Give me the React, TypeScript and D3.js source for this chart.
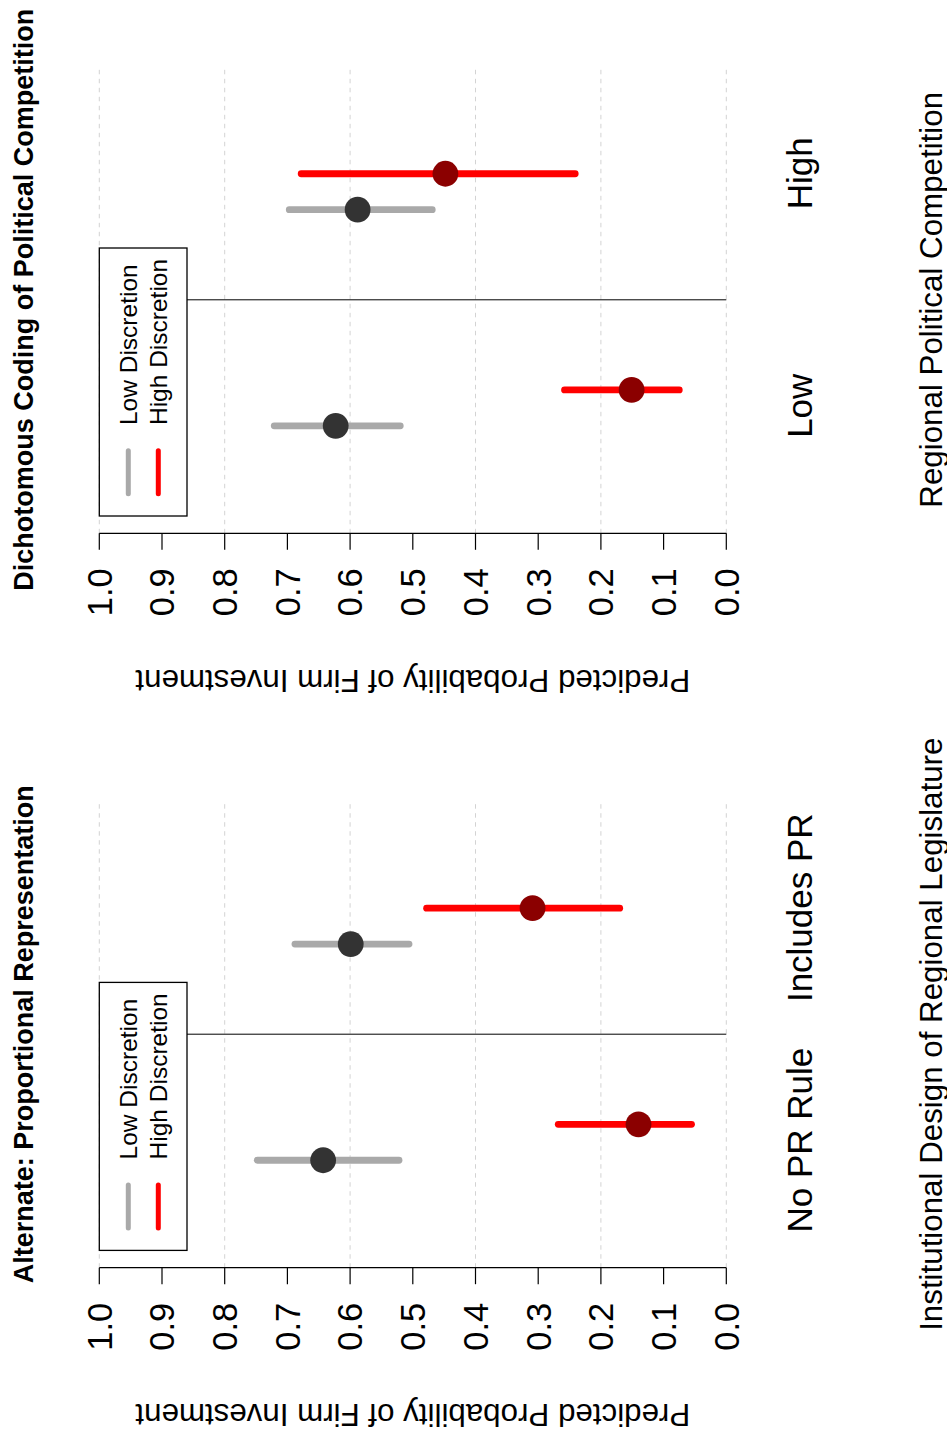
import React from "react";
import * as d3 from "d3";

// ---------- data ----------
const topTitle = "Dichotomous Coding of Political Competition";
const topXLabel = "Regional Political Competition";
const topCategories = ["Low", "High"];
const topLowEst = [0.623, 0.588];
const topLowLo = [0.52, 0.469];
const topLowHi = [0.721, 0.697];
const topHighEst = [0.151, 0.448];
const topHighLo = [0.075, 0.241];
const topHighHi = [0.258, 0.678];

const botTitle = "Alternate: Proportional Representation";
const botXLabel = "Institutional Design of Regional Legislature";
const botCategories = ["No PR Rule", "Includes PR"];
const botLowEst = [0.643, 0.599];
const botLowLo = [0.522, 0.506];
const botLowHi = [0.748, 0.688];
const botHighEst = [0.14, 0.309];
const botHighLo = [0.0555, 0.17];
const botHighHi = [0.268, 0.478];

const yTicks = [0, 0.1, 0.2, 0.3, 0.4, 0.5, 0.6, 0.7, 0.8, 0.9, 1.0];
const gridTicks = [0, 0.2, 0.4, 0.6, 0.8, 1.0];
const legendLabels = ["Low Discretion", "High Discretion"];
const yLabel = "Predicted Probability of Firm Investment";

// ---------- layout ----------
const W = 1436; // original (unrotated) width
const H = 947;
const FONT = "'Liberation Sans', Arial, Helvetica, sans-serif";
const PLOT_W = 467;
const GRAY_LINE = "#A9A9A9";
const GRAY_PT = "#333333";
const RED_LINE = "#FF0000";
const RED_PT = "#8B0000";
const OFFSET = 0.083;
const labelShift = [0.01, 0.085];

const y = d3.scaleLinear().domain([0, 1]).range([726.3, 99.3]);

type PanelProps = {
  left: number;
  title: string;
  xlabel: string;
  cats: string[];
  lowEst: number[];
  lowLo: number[];
  lowHi: number[];
  highEst: number[];
  highLo: number[];
  highHi: number[];
};

function Panel(p: PanelProps) {
  const x = d3.scaleLinear().domain([0.42, 2.58]).range([p.left, p.left + PLOT_W]);
  const center = p.left + PLOT_W / 2;
  const series = [
    { est: p.lowEst, lo: p.lowLo, hi: p.lowHi, off: -OFFSET, lc: GRAY_LINE, pc: GRAY_PT },
    { est: p.highEst, lo: p.highLo, hi: p.highHi, off: OFFSET, lc: RED_LINE, pc: RED_PT },
  ];
  const legX = x(0.5);
  const legY = y(1);
  return (
    <g>
      {gridTicks.map((t) => (
        <line
          key={"g" + t}
          x1={x(0.42)}
          x2={x(2.58)}
          y1={y(t)}
          y2={y(t)}
          stroke="#D3D3D3"
          strokeWidth={1}
          strokeDasharray="4.5 4.5"
        />
      ))}
      <line x1={x(1.5)} x2={x(1.5)} y1={y(0)} y2={y(1)} stroke="#000" strokeWidth={1} />
      {series.map((s, si) =>
        p.cats.map((c, i) => (
          <line
            key={"s" + si + i}
            x1={x(i + 1 + s.off)}
            x2={x(i + 1 + s.off)}
            y1={y(s.lo[i])}
            y2={y(s.hi[i])}
            stroke={s.lc}
            strokeWidth={6.8}
            strokeLinecap="round"
          />
        ))
      )}
      {series.map((s, si) =>
        p.cats.map((c, i) => (
          <circle key={"p" + si + i} cx={x(i + 1 + s.off)} cy={y(s.est[i])} r={12.9} fill={s.pc} />
        ))
      )}
      {/* y axis */}
      <line x1={p.left} x2={p.left} y1={y(0)} y2={y(1)} stroke="#000" strokeWidth={1.2} />
      {yTicks.map((t) => (
        <g key={"t" + t}>
          <line x1={p.left} x2={p.left - 16.5} y1={y(t)} y2={y(t)} stroke="#000" strokeWidth={1.2} />
          <text
            x={p.left - 35}
            y={y(t) + 12.3}
            textAnchor="end"
            fontSize={34.5}
            fontFamily={FONT}
          >
            {d3.format(".1f")(t)}
          </text>
        </g>
      ))}
      <text
        transform={`translate(${p.left - 136.7},${(y(0) + y(1)) / 2}) rotate(-90)`}
        textAnchor="middle"
        fontSize={31.3}
        fontFamily={FONT}
      >
        {yLabel}
      </text>
      {/* category labels */}
      {p.cats.map((c, i) => (
        <text
          key={"c" + i}
          x={x(i + 1 + labelShift[i])}
          y={811.5}
          textAnchor="middle"
          fontSize={35}
          fontFamily={FONT}
        >
          {c}
        </text>
      ))}
      <text x={center} y={941.5} textAnchor="middle" fontSize={31.3} fontFamily={FONT}>
        {p.xlabel}
      </text>
      <text
        x={center}
        y={32.5}
        textAnchor="middle"
        fontSize={27}
        fontWeight="bold"
        fontFamily={FONT}
      >
        {p.title}
      </text>
      {/* legend */}
      <rect x={legX} y={legY} width={268} height={87.7} fill="#fff" stroke="#000" strokeWidth={1.3} />
      {legendLabels.map((l, i) => (
        <g key={"l" + i}>
          <line
            x1={legX + 22.3}
            x2={legX + 65.3}
            y1={legY + 29 + i * 30}
            y2={legY + 29 + i * 30}
            stroke={i === 0 ? GRAY_LINE : RED_LINE}
            strokeWidth={5}
            strokeLinecap="round"
          />
          <text x={legX + 91} y={legY + 29 + i * 30 + 8.8} fontSize={24.5} fontFamily={FONT}>
            {l}
          </text>
        </g>
      ))}
    </g>
  );
}

export default function App() {
  return (
    <svg
      width={H}
      height={W}
      style={{ position: "absolute", left: 0, top: 0, background: "#fff" }}
    >
      <rect x={0} y={0} width={H} height={W} fill="#fff" />
      <g transform={`translate(0,${W}) rotate(-90)`}>
        <Panel
          left={168.3}
          title={botTitle}
          xlabel={botXLabel}
          cats={botCategories}
          lowEst={botLowEst}
          lowLo={botLowLo}
          lowHi={botLowHi}
          highEst={botHighEst}
          highLo={botHighLo}
          highHi={botHighHi}
        />
        <Panel
          left={902.7}
          title={topTitle}
          xlabel={topXLabel}
          cats={topCategories}
          lowEst={topLowEst}
          lowLo={topLowLo}
          lowHi={topLowHi}
          highEst={topHighEst}
          highLo={topHighLo}
          highHi={topHighHi}
        />
      </g>
    </svg>
  );
}
